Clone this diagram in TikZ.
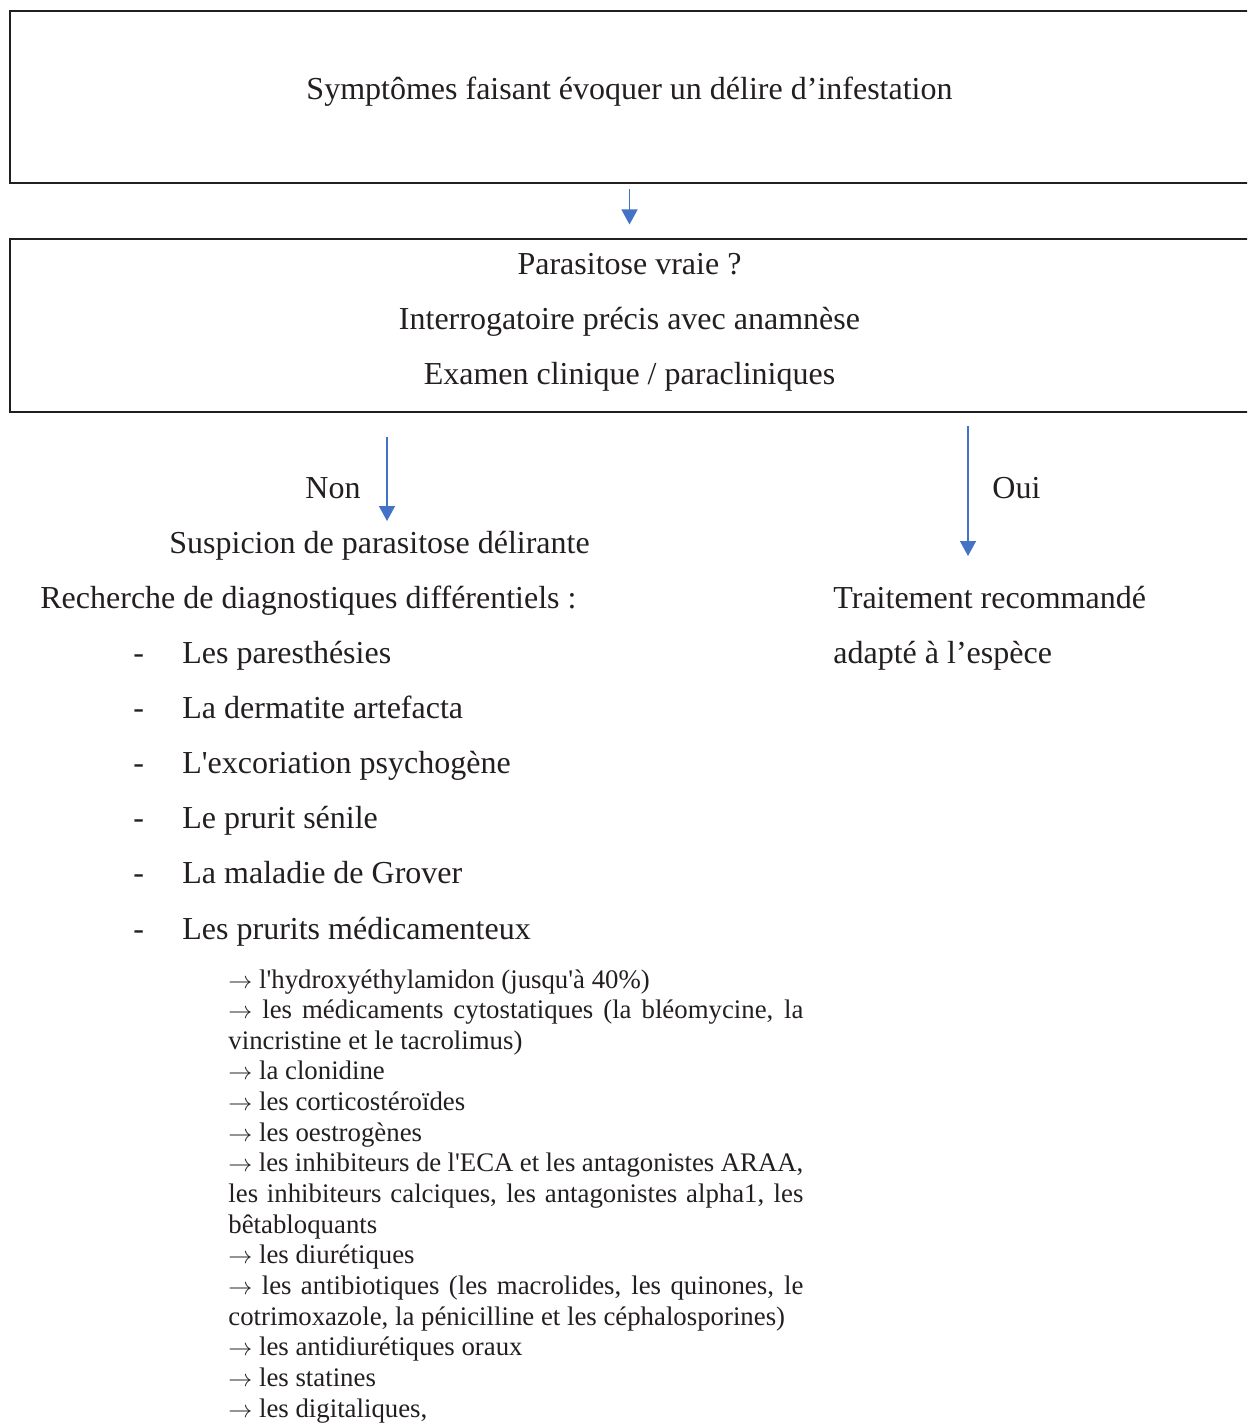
\documentclass[tikz,border=0pt]{standalone}
\usepackage{fontspec}
\setmainfont{Liberation Serif}[Ligatures=TeXOff]
\usepackage{xcolor}
\usepackage{tikz}
\usetikzlibrary{arrows.meta, positioning}
\definecolor{inkblack}{HTML}{231F20}
\definecolor{arrowblue}{HTML}{4472C4}
\newcommand{\darr}{{\fontsize{11.5}{12}\selectfont$\rightarrow$}}

\begin{document}
\begin{tikzpicture}[
    x=0.5pt, y=-0.5pt,
    frame/.style={rectangle, draw=inkblack, line width=1pt, minimum width=619.5pt, minimum height=86pt, align=center, text=inkblack, font=\fontsize{16}{27.5}\selectfont},
    txt/.style={inner sep=0pt, anchor=base west, text=inkblack, font=\fontsize{16}{20}\selectfont},
    drug/.style={inner sep=0pt, anchor=north west, text width=287.5pt, align=justify, text=inkblack, font=\fontsize{13.4}{15.32}\selectfont},
    line/.style={-{Triangle[width=8pt, length=7.5pt]}, draw=arrowblue, line width=0.75pt}
]
    \useasboundingbox (0,0) rectangle (1247,1423);
    \clip (0,0) rectangle (1247,1423);

    % Layout
    \node[frame] (sympt) at (629.5,97) {Symptômes faisant évoquer un délire d’infestation\rule[-8.5pt]{0pt}{0pt}};
    \node[frame] (vraie) at (629.5,325.5) {Parasitose vraie ?\\Interrogatoire précis avec anamnèse\\Examen clinique / paracliniques\rule[-6.5pt]{0pt}{0pt}};

    \coordinate (nonTop) at (387,437);
    \coordinate (nonEnd) at (387,521);
    \coordinate (ouiTop) at (968,426);
    \coordinate (ouiEnd) at (968,556);

    \node[txt] (non) at (305,498) {Non};
    \node[txt] (oui) at (992,498) {Oui};
    \node[txt] (suspicion) at (169,553) {Suspicion de parasitose délirante};
    \node[txt] (recherche) at (40,608) {Recherche de diagnostiques différentiels :};
    \node[txt] (traitement) at (833,608) {Traitement recommandé};
    \node[txt] (espece) at (833,663) {adapté à l’espèce};

    \foreach \item [count=\i] in {Les paresthésies, La dermatite artefacta, L'excoriation psychogène, Le prurit sénile, La maladie de Grover, Les prurits médicamenteux} {
        \node[txt] (dash\i) at (133,663+55.2*\i-55.2) {-};
        \node[txt] (item\i) at (182,663+55.2*\i-55.2) {\item};
    }

    \node[drug] (drugs) at (228,969) {\darr{} l'hydroxyéthylamidon (jusqu'à 40\%)\\
        \darr{} les médicaments cytostatiques (la bléomycine, la\linebreak vincristine et le tacrolimus)\\
        \darr{} la clonidine\\
        \darr{} les corticostéroïdes\\
        \darr{} les oestrogènes\\
        \darr{} les inhibiteurs de l'ECA et les antagonistes ARAA,\linebreak les inhibiteurs calciques, les antagonistes alpha1, les\linebreak bêtabloquants\\
        \darr{} les diurétiques\\
        \darr{} les antibiotiques (les macrolides, les quinones, le\linebreak cotrimoxazole, la pénicilline et les céphalosporines)\\
        \darr{} les antidiurétiques oraux\\
        \darr{} les statines\\
        \darr{} les digitaliques,};

    % Arrows
    \draw[line, shorten <=5pt*0.5, shorten >=7pt] (sympt.south) -- (vraie.north);
    \draw[line] (nonTop) -- (nonEnd);
    \draw[line] (ouiTop) -- (ouiEnd);
\end{tikzpicture}
\end{document}
